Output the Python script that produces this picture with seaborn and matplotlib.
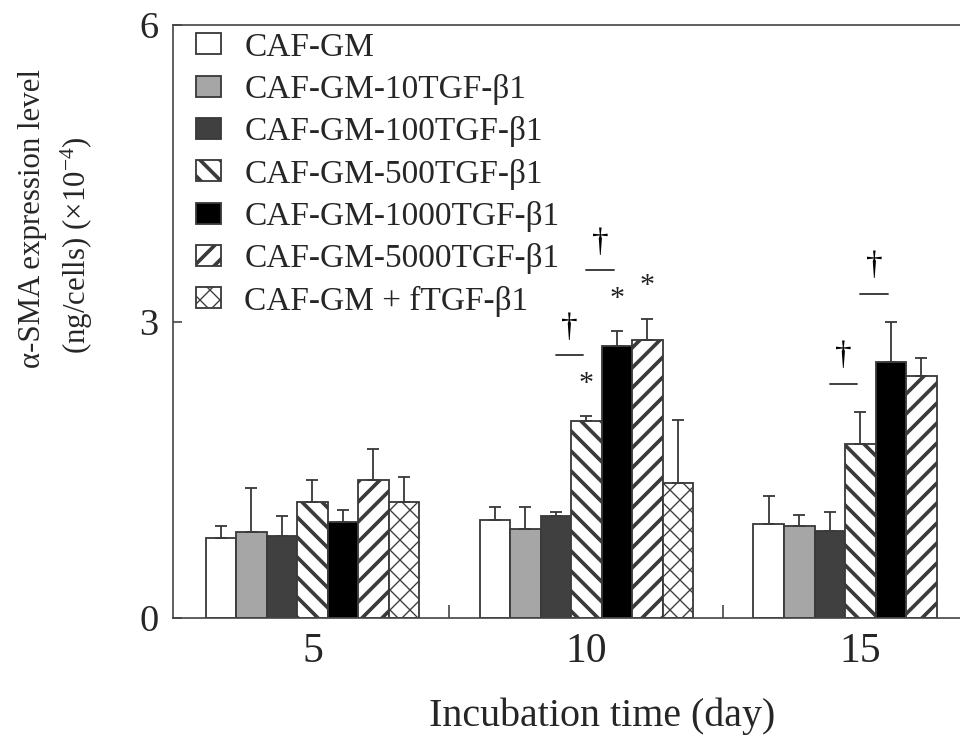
import numpy as np
import pandas as pd
import matplotlib
matplotlib.use("Agg")
import matplotlib.pyplot as plt
import seaborn as sns

# ---------------- data ----------------
days = [5, 10, 15]
groups = ["CAF-GM", "CAF-GM-10TGF-β1", "CAF-GM-100TGF-β1", "CAF-GM-500TGF-β1",
          "CAF-GM-1000TGF-β1", "CAF-GM-5000TGF-β1", "CAF-GM + fTGF-β1"]
mean_day5 = [0.81, 0.87, 0.83, 1.17, 0.97, 1.40, 1.17]
err_day5 = [0.12, 0.45, 0.20, 0.23, 0.12, 0.31, 0.26]
mean_day10 = [0.99, 0.90, 1.03, 1.99, 2.75, 2.81, 1.37]
err_day10 = [0.13, 0.22, 0.04, 0.05, 0.15, 0.22, 0.63]
mean_day15 = [0.95, 0.93, 0.88, 1.76, 2.59, 2.45, None]
err_day15 = [0.28, 0.11, 0.19, 0.32, 0.40, 0.18, None]
star_marks = [(10, "CAF-GM-500TGF-β1"), (10, "CAF-GM-1000TGF-β1"), (10, "CAF-GM-5000TGF-β1")]
dagger_marks = [(10, "CAF-GM-500TGF-β1"), (10, "CAF-GM-1000TGF-β1"),
                (15, "CAF-GM-500TGF-β1"), (15, "CAF-GM-1000TGF-β1")]
y_ticks = [0, 3, 6]
x_label = "Incubation time (day)"
y_label1 = "α-SMA expression level"
y_label2 = "(ng/cells) (×10$^{-4}$)"

rows = []
for d, means, errs in zip(days, [mean_day5, mean_day10, mean_day15],
                          [err_day5, err_day10, err_day15]):
    for g, m, e in zip(groups, means, errs):
        if m is not None:
            rows.append({"day": d, "group": g, "value": m, "err": e})
df = pd.DataFrame(rows)

# ---------------- style ----------------
sns.set_style("white")
plt.rcParams["font.family"] = ["Liberation Serif", "DejaVu Serif"]
plt.rcParams["mathtext.fontset"] = "custom"
plt.rcParams["mathtext.rm"] = "Liberation Serif"
plt.rcParams["mathtext.it"] = "Liberation Serif:italic"
plt.rcParams["hatch.linewidth"] = 2.2

fill_colors = ["white", "#a6a6a6", "#404040", "white", "black", "white", "white"]
hatches = [None, None, None, "\\\\", None, "//", "xx"]
edge = "#3a3a3a"


def thin_cross(p):
    try:
        p.set_hatch_linewidth(0.8)
    except Exception:
        pass


DPI = 120
fig = plt.figure(figsize=(960 / DPI, 740 / DPI), dpi=DPI)
ax = fig.add_axes([173.3 / 960, (740 - 618) / 740, (960 - 173.3) / 960, (618 - 25) / 740])

sns.barplot(data=df, x="day", y="value", hue="group", hue_order=groups,
            native_scale=True, width=0.78, errorbar=None, legend=False,
            palette=fill_colors, saturation=1, edgecolor=edge, linewidth=1.1, ax=ax)

# hatches, error bars and significance marks
for gi, (cont, h) in enumerate(zip(ax.containers, hatches)):
    sub = df[df["group"] == groups[gi]].sort_values("day")
    patches = sorted(cont.patches, key=lambda p: p.get_x())
    for p, (_, r) in zip(patches, sub.iterrows()):
        if h:
            p.set_hatch(h)
            if h == "xx":
                thin_cross(p)
        w = p.get_width()
        xc = p.get_x() + w / 2
        ax.errorbar([xc], [r["value"]], yerr=[[0], [r["err"]]], fmt="none",
                    ecolor=edge, elinewidth=1.1, capsize=3.5, capthick=1.1, zorder=3)
        top = r["value"] + r["err"]
        has_star = (r["day"], r["group"]) in star_marks
        if has_star:
            ax.text(xc, top + 0.33, "*", ha="center", va="center", fontsize=18, color="#222")
        if (r["day"], r["group"]) in dagger_marks:
            ly = top + (0.62 if has_star else 0.29)
            x0 = p.get_x() - 0.5 * w
            x1 = p.get_x() + 0.4 * w
            ax.plot([x0, x1], [ly, ly], color="#333", lw=1.1)
            ax.text((x0 + x1) / 2, ly + 0.28, "†", ha="center", va="center",
                    fontsize=20, color="black")

ax.set_xlim(2.46, 16.82)
ax.set_ylim(0, 6)
ax.set_yticks(y_ticks)
ax.set_xticks(days)
ax.set_xticks([7.5, 12.5], minor=True)
ax.tick_params(axis="x", which="major", length=0, labelsize=25, pad=9)
ax.tick_params(axis="x", which="minor", direction="in", length=8, width=0.9,
               color="#333", bottom=True)
ax.tick_params(axis="y", which="major", direction="in", length=5.5, width=0.9,
               color="#333", left=True, labelsize=23, pad=9)
ax.set_xlabel("")
ax.set_ylabel("")
for s in ["left", "bottom", "top"]:
    ax.spines[s].set_color("#444")
    ax.spines[s].set_linewidth(1.0)
ax.spines["right"].set_visible(False)

fig.text(602 / 960, 1 - 716 / 740, x_label, ha="center", va="center", fontsize=24)
fig.text(33 / 960, 1 - 218 / 740, y_label1, ha="center", va="center", rotation=90, fontsize=18.5)
fig.text(77 / 960, 1 - 245 / 740, y_label2, ha="center", va="center", rotation=90, fontsize=18.5)

leg = ax.legend(handles=ax.containers, labels=groups, loc="upper left",
                bbox_to_anchor=((196 - 173.3) / (960 - 173.3), 1 - 7 / 593),
                frameon=False, fontsize=20, borderpad=0, borderaxespad=0,
                handlelength=0.75, handleheight=0.6, handletextpad=0.7,
                labelspacing=0.34)
for lp, h in zip(leg.get_patches(), hatches):
    if h == "xx":
        thin_cross(lp)

fig.savefig("out.png", dpi=DPI)
